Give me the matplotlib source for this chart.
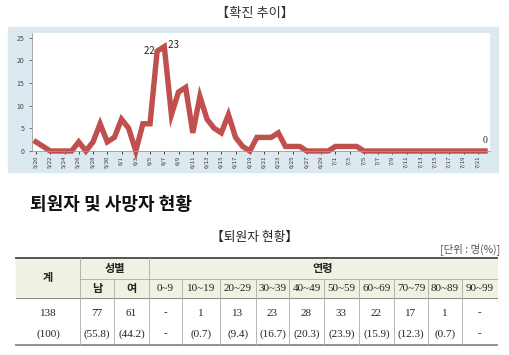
import pandas as pd
import matplotlib.pyplot as plt
from matplotlib.patches import Rectangle

plt.rcParams['font.family'] = ['Noto Sans CJK KR', 'DejaVu Sans']

# daily confirmed cases, 5/20 ~ 7/22
dates = pd.date_range('2015-05-20', '2015-07-22')
date_labels = [f'{d.month}/{d.day}' for d in dates]
cases = [2, 1, 0, 0, 0, 0, 2, 0, 2, 6, 2, 3, 7, 5, 0, 6, 6, 22, 23, 8,
         13, 14, 4, 12, 7, 5, 4, 8, 3, 1, 0, 3, 3, 3, 4, 1, 1, 1, 0, 0,
         0, 0, 1, 1, 1, 1] + [0] * 18

# table
total = ['138', '(100)']
sex_labels = ['남', '여']
sex_vals = [['77', '(55.8)'], ['61', '(44.2)']]
age_labels = ['0~9', '10~19', '20~29', '30~39', '40~49', '50~59',
              '60~69', '70~79', '80~89', '90~99']
age_vals = [['-', '-'], ['1', '(0.7)'], ['13', '(9.4)'], ['23', '(16.7)'],
            ['28', '(20.3)'], ['33', '(23.9)'], ['22', '(15.9)'],
            ['17', '(12.3)'], ['1', '(0.7)'], ['-', '-']]

fig = plt.figure(figsize=(5.1, 3.55), dpi=100)
bg = fig.add_axes([0, 0, 1, 1])
bg.set_xlim(0, 510)
bg.set_ylim(355, 0)
bg.axis('off')

# chart frame
bg.add_patch(Rectangle((8, 27), 490, 145, color='#dde9f1', zorder=0))
bg.text(255, 13, '【확진 추이】', ha='center', va='center', fontsize=9.5, color='#333333')

ax = fig.add_axes([32 / 510, 1 - 151 / 355, 458 / 510, 118 / 355])
ax.set_facecolor('white')
x = list(range(len(cases)))
ax.plot(x, cases, color='#c0504d', lw=3.9, solid_joinstyle='miter', clip_on=False)
ax.set_xlim(-0.56, 63.7)
ax.set_ylim(0, 26)
ax.set_yticks(range(0, 26, 5))
ax.set_xticks(x[::2])
ax.set_xticklabels(date_labels[::2], rotation=90, fontsize=4.3, color='#333333')
ax.tick_params(axis='y', labelsize=5, colors='#444444', length=2, width=0.5)
ax.tick_params(axis='x', length=2, width=0.5, pad=1.5)
for s in ['top', 'right']:
    ax.spines[s].set_visible(False)
for s in ['left', 'bottom']:
    ax.spines[s].set_color('#999999')
    ax.spines[s].set_linewidth(0.6)
ax.text(17, 22, '22 ', ha='right', va='center', fontsize=7, color='#222222')
ax.text(18, 23.3, '  23', ha='left', va='center', fontsize=7, color='#222222')
ax.text(x[-1], 1.3, '0', ha='center', va='bottom', fontsize=7,
        color='#222222', family='Liberation Serif')

# section titles
bg.text(30, 205, '퇴원자 및 사망자 현황', ha='left', va='center', fontsize=13,
        fontweight='bold', color='#111111')
bg.text(255, 237, '【퇴원자 현황】', ha='center', va='center', fontsize=9.2, color='#222222')
bg.text(500, 249, '[단위 : 명(%)]', ha='right', va='center', fontsize=7.5, color='#555555')

# table
cols = [16, 80, 114, 149, 182, 220, 256, 289, 324, 359, 394, 428, 462, 497]
rows = [258, 279, 298, 345]
bg.add_patch(Rectangle((cols[0], rows[0]), cols[-1] - cols[0], rows[2] - rows[0],
                       color='#edf2e2', zorder=0))
bg.plot([cols[0], cols[-1]], [rows[0], rows[0]], color='#555555', lw=1.4)
bg.plot([cols[1], cols[-1]], [rows[1], rows[1]], color='#aaaaaa', lw=0.6)
bg.plot([cols[0], cols[-1]], [rows[2], rows[2]], color='#888888', lw=0.7)
bg.plot([cols[0], cols[-1]], [rows[3], rows[3]], color='#888888', lw=1.3)
for i, c in enumerate(cols[1:-1], start=1):
    top = rows[1] if i in (2, 4, 5, 6, 7, 8, 9, 10, 11, 12) else rows[0]
    bg.plot([c, c], [top, rows[3]], color='#aaaaaa', lw=0.6)

hdr = dict(ha='center', va='center', fontsize=8, fontweight='bold', color='#222222')
bg.text((cols[0] + cols[1]) / 2, (rows[0] + rows[2]) / 2, '계', **hdr)
bg.text((cols[1] + cols[3]) / 2, (rows[0] + rows[1]) / 2, '성별', **hdr)
bg.text((cols[3] + cols[-1]) / 2, (rows[0] + rows[1]) / 2, '연령', **hdr)

ytop, ybot = 313, 334
num = dict(ha='center', va='center', fontsize=8, color='#222222', family='Liberation Serif')
bg.text((cols[0] + cols[1]) / 2, ytop, total[0], **num)
bg.text((cols[0] + cols[1]) / 2, ybot, total[1], **num)
for i, (lab, v) in enumerate(zip(sex_labels, sex_vals)):
    cx = (cols[1 + i] + cols[2 + i]) / 2
    bg.text(cx, (rows[1] + rows[2]) / 2, lab, **hdr)
    bg.text(cx, ytop, v[0], **num)
    bg.text(cx, ybot, v[1], **num)
for i, (lab, v) in enumerate(zip(age_labels, age_vals)):
    cx = (cols[3 + i] + cols[4 + i]) / 2
    bg.text(cx, (rows[1] + rows[2]) / 2, lab, ha='center', va='center', fontsize=8,
            color='#222222', family='Liberation Serif')
    bg.text(cx, ytop, v[0], **num)
    bg.text(cx, ybot, v[1], **num)

fig.savefig('out.png', dpi=100)
